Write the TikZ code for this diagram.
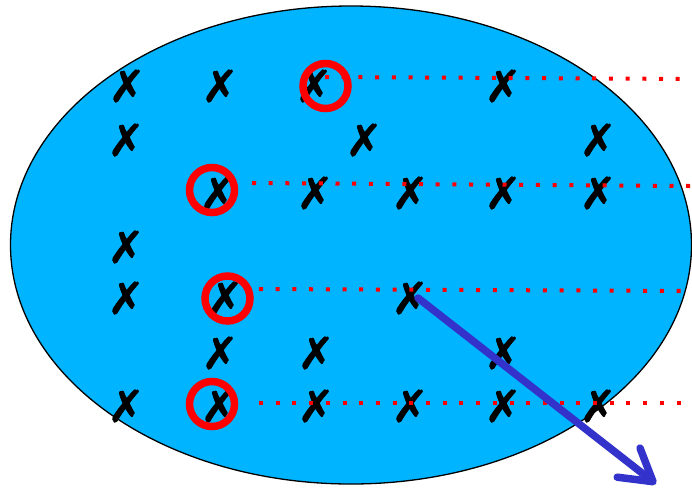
\documentclass[tikz,border=0pt]{standalone}
\usepackage{fontspec}
\newfontfamily\symfont[FakeBold=1.6]{DejaVu Sans}
\usetikzlibrary{arrows.meta,shapes.geometric}
\definecolor{skyfill}{RGB}{0,180,255}
\definecolor{arrowblue}{RGB}{51,51,204}
\tikzset{
  crossmark/.style={inner sep=0pt, font=\symfont\fontsize{44}{44}\selectfont, text=black},
  ring/.style={draw=red, line width=7.5pt, circle, minimum size=45pt, inner sep=0pt},
  redtrail/.style={draw=red, line width=4pt, dash pattern=on 4pt off 12.7pt},
  bigarrow/.style={draw=arrowblue, line width=7.5pt, line cap=round,
    -{Straight Barb[length=31pt,width=37pt,round]}}
}
\begin{document}
\begin{tikzpicture}[x=1pt,y=-1pt]
\useasboundingbox (0,0) rectangle (692,488);
\node[draw=black, line width=1.3pt, fill=skyfill, ellipse, minimum width=681pt, minimum height=478pt, inner sep=0pt] (field) at (351,245) {};
% crosses
\foreach \x/\y/\n in {127/86/a1,220/86/a2,314/86/a3,503/86/a4,
  126/140/b1,364/140/b2,598/140/b3,
  218/193/c1,315/193/c2,410/193/c3,503/193/c4,598/193/c5,
  126/247/d1,
  126/298/e1,225/298/e2,410/298/e3,
  220/353/f1,316/353/f2,503/353/f3,
  126/406/g1,219/406/g2,316/406/g3,410/406/g4,503/406/g5,598/406/g6}
  \node[crossmark] (\n) at (\x,\y) {✗};
% rings
\node[ring] (r1) at (325.5,86) {};
\node[ring] (r2) at (212,190) {};
\node[ring] (r3) at (227.5,298.5) {};
\node[ring] (r4) at (212,404) {};
% dotted trails
\coordinate (s1) at (325,77);  \coordinate (t1) at (692,79);
\coordinate (s2) at (252,183); \coordinate (t2) at (690,186);
\coordinate (s3) at (259,289); \coordinate (t3) at (692,291);
\coordinate (s4) at (259,403); \coordinate (t4) at (692,403);
\draw[redtrail] (s1) -- (t1);
\draw[redtrail] (s2) -- (t2);
\draw[redtrail] (s3) -- (t3);
\draw[redtrail] (s4) -- (t4);
% arrow
\coordinate (p0) at (418,298);
\coordinate (p1) at (656,484);
\draw[bigarrow] (p0) -- (p1);
\end{tikzpicture}
\end{document}
